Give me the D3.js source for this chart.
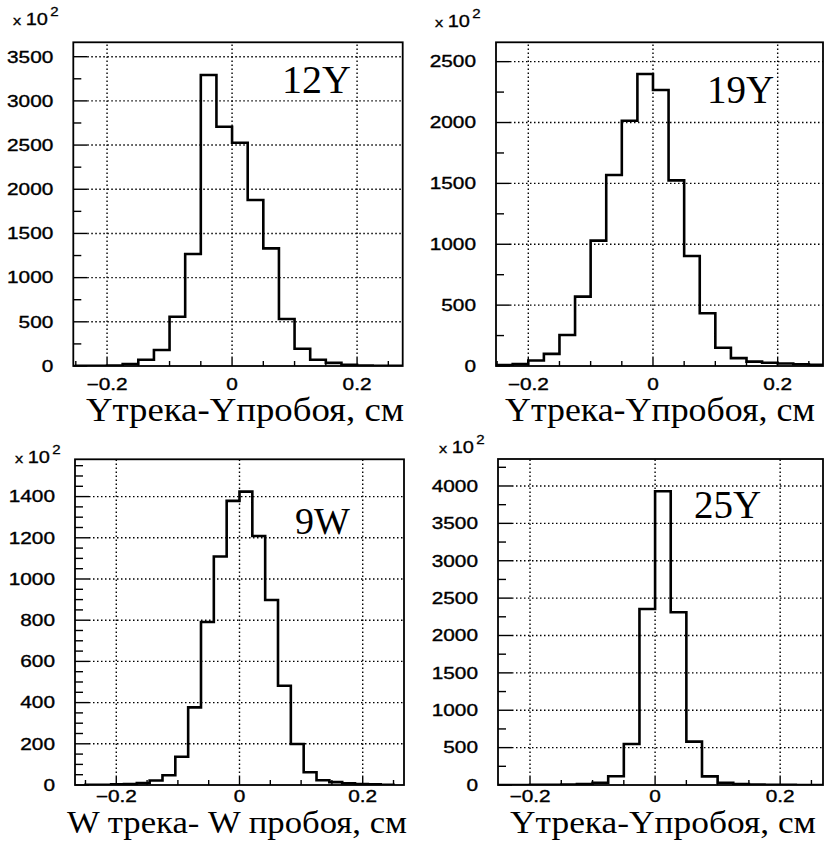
<!DOCTYPE html>
<html><head><meta charset="utf-8">
<script src="https://cdn.jsdelivr.net/npm/d3@7"></script>
<style>html,body{margin:0;padding:0;background:#fff}</style>
</head><body><svg id="c" width="824" height="846"></svg>
<script>
// ---------- data ----------
const panelNames = ["12Y", "19Y", "9W", "25Y"];
const axisTitles = ["Yтрека-Yпробоя, см", "Yтрека-Yпробоя, см", "W трека- W пробоя, см", "Yтрека-Yпробоя, см"];
const xTickValues = [-0.2, 0, 0.2];
const xTickLabels = ["−0.2", "0", "0.2"];
const xMinorTicks = [-0.25, -0.15, -0.1, -0.05, 0.05, 0.1, 0.15, 0.25];
const yTicks12Y = [0, 500, 1000, 1500, 2000, 2500, 3000, 3500];
const yTicks19Y = [0, 500, 1000, 1500, 2000, 2500];
const yTicks9W = [0, 200, 400, 600, 800, 1000, 1200, 1400];
const yTicks25Y = [0, 500, 1000, 1500, 2000, 2500, 3000, 3500, 4000];
const yMinorStep = [250, 250, 50, 250];
const scaleBase = "10";
const scaleExp = "2";

// bin edges (cm)
const edges25 = [-0.25, -0.225, -0.2, -0.175, -0.15, -0.125, -0.1, -0.075, -0.05, -0.025, 0,
  0.025, 0.05, 0.075, 0.1, 0.125, 0.15, 0.175, 0.2, 0.225, 0.25, 0.275];
const edges9W = [-0.25, -0.22917, -0.20833, -0.1875, -0.16667, -0.14583, -0.125, -0.10417, -0.08333,
  -0.0625, -0.04167, -0.02083, 0, 0.02083, 0.04167, 0.0625, 0.08333, 0.10417, 0.125, 0.14583,
  0.16667, 0.1875, 0.20833, 0.22917, 0.25];
// counts (x 10^2)
const counts12Y = [1, 2, 5, 23, 70, 181, 558, 1267, 3293, 2708, 2527, 1878, 1331, 532, 195, 70, 35, 14, 5, 2, 1];
const counts19Y = [8, 15, 45, 100, 255, 570, 1030, 1569, 2015, 2399, 2267, 1525, 904, 433, 150, 65, 36, 27, 20, 14, 10];
const counts9W = [1, 1, 3, 5, 10, 22, 47, 137, 377, 791, 1109, 1379, 1424, 1209, 898, 482, 199, 62, 23, 14, 8, 5, 3, 1];
const counts25Y = [1, 1, 2, 3, 5, 13, 31, 118, 548, 2354, 3929, 2310, 580, 115, 31, 13, 5, 3, 2, 1, 1];

// ---------- layout ----------
const panels = [
  {edges: edges25, counts: counts12Y, yTicks: yTicks12Y, box: [73.3, 402.7, 42.3, 366], xd: [-0.254, 0.273], ymax: 3663,
   name: [282, 93, 40], title: [404, 421, 318, 33], xlabY: 390, exp: [13, 25]},
  {edges: edges25, counts: counts19Y, yTicks: yTicks19Y, box: [496, 823, 42.3, 366], xd: [-0.2518, 0.2727], ymax: 2659,
   name: [707, 103, 39], title: [815, 421, 310, 33], xlabY: 390, exp: [435, 27]},
  {edges: edges9W, counts: counts9W, yTicks: yTicks9W, box: [75, 404, 459.3, 785], xd: [-0.267, 0.267], ymax: 1581,
   name: [295, 534, 38], title: [407, 833, 340, 31], xlabY: 802, exp: [15, 463]},
  {edges: edges25, counts: counts25Y, yTicks: yTicks25Y, box: [498, 823, 459, 785], xd: [-0.2512, 0.2685], ymax: 4361,
   name: [694, 518, 39], title: [816, 833, 306, 31], xlabY: 802, exp: [439, 453]}
];

const svg = d3.select("#c");
const SANS = "'Liberation Sans', Arial, Helvetica, sans-serif";
const SERIF = "'Liberation Serif', 'Times New Roman', serif";
const SX = 1.3;

function sansText(g, x, y, s, anchor, size) {
  g.append("text")
    .attr("transform", `translate(${x},${y}) scale(${SX},1)`)
    .attr("text-anchor", anchor)
    .attr("font-family", SANS).attr("font-size", size)
    .attr("fill", "#000").attr("stroke", "#000").attr("stroke-width", 0.35)
    .text(s);
}

panels.forEach((p, i) => {
  const [L, R, T, B] = p.box;
  const x = d3.scaleLinear().domain(p.xd).range([L, R]);
  const y = d3.scaleLinear().domain([0, p.ymax]).range([B, T]);
  const g = svg.append("g");
  const clipId = "clip" + i;
  svg.append("clipPath").attr("id", clipId).append("rect")
    .attr("x", L).attr("y", T).attr("width", R - L).attr("height", B - T);

  // dotted grid
  const grid = g.append("g").attr("stroke", "#000").attr("stroke-width", 1.4)
    .attr("stroke-dasharray", "1.5,2.5").attr("fill", "none");
  p.yTicks.filter(v => v > 0).forEach(v => {
    grid.append("line").attr("x1", L + 14).attr("x2", R).attr("y1", y(v)).attr("y2", y(v));
  });
  xTickValues.forEach(v => {
    grid.append("line").attr("x1", x(v)).attr("x2", x(v)).attr("y1", B - 8).attr("y2", T);
  });

  // histogram outline
  const pts = [];
  p.counts.forEach((c, k) => {
    if (k === 0) pts.push([x(p.edges[0]), y(0)]);
    pts.push([x(p.edges[k]), y(c)]);
    pts.push([x(p.edges[k + 1]), y(c)]);
  });
  pts.push([x(p.edges[p.counts.length]), y(0)]);
  g.append("path").attr("clip-path", `url(#${clipId})`)
    .attr("d", d3.line()(pts))
    .attr("fill", "none").attr("stroke", "#000").attr("stroke-width", 2.6)
    .attr("stroke-linejoin", "miter");

  // ticks
  const tk = g.append("g").attr("stroke", "#000").attr("stroke-width", 1.4);
  const yMinor = d3.range(0, p.ymax, yMinorStep[i]).filter(v => !p.yTicks.includes(v));
  yMinor.forEach(v => tk.append("line").attr("x1", L).attr("x2", L + 8).attr("y1", y(v)).attr("y2", y(v)));
  p.yTicks.forEach(v => tk.append("line").attr("x1", L).attr("x2", L + 14).attr("y1", y(v)).attr("y2", y(v)));
  xMinorTicks.forEach(v => {
    if (x(v) > L + 1 && x(v) < R - 1)
      tk.append("line").attr("x1", x(v)).attr("x2", x(v)).attr("y1", B).attr("y2", B - 5);
  });
  xTickValues.forEach(v => tk.append("line").attr("x1", x(v)).attr("x2", x(v)).attr("y1", B).attr("y2", B - 8));

  // frame
  g.append("rect").attr("x", L).attr("y", T).attr("width", R - L).attr("height", B - T)
    .attr("fill", "none").attr("stroke", "#000").attr("stroke-width", 1.8);

  // y labels
  p.yTicks.forEach(v => sansText(g, L - 20, y(v) + 5.8, String(v), "end", 16));
  // x labels
  xTickValues.forEach((v, k) => sansText(g, x(v), p.xlabY, xTickLabels[k], "middle", 16));

  // x 10^2
  const e = g.append("text").attr("transform", `translate(${p.exp[0]},${p.exp[1]}) scale(1.25,1)`)
    .attr("font-family", SANS).attr("fill", "#000").attr("stroke", "#000").attr("stroke-width", 0.3);
  e.append("tspan").attr("font-size", 13).text("x ");
  e.append("tspan").attr("font-size", 16).text(scaleBase);
  e.append("tspan").attr("font-size", 12).attr("dy", -9).attr("dx", 2).text(scaleExp);

  // panel name
  g.append("text").attr("x", p.name[0]).attr("y", p.name[1])
    .attr("font-family", SERIF).attr("font-size", p.name[2]).attr("fill", "#000")
    .text(panelNames[i]);

  // axis title
  g.append("text").attr("x", p.title[0] - p.title[2]).attr("y", p.title[1])
    .attr("textLength", p.title[2]).attr("lengthAdjust", "spacingAndGlyphs")
    .attr("font-family", SERIF).attr("font-size", p.title[3]).attr("fill", "#000")
    .text(axisTitles[i]);
});
</script></body></html>
